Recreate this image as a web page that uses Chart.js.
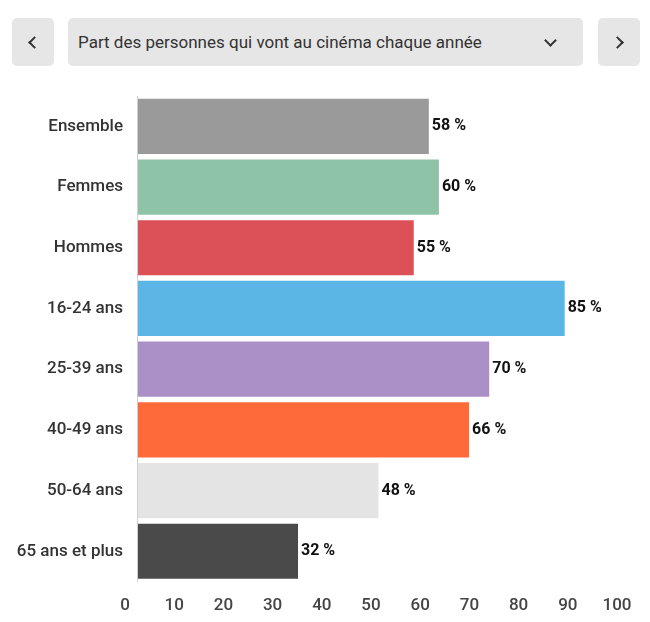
<!DOCTYPE html>
<html>
<head>
<meta charset="utf-8">
<script src="https://cdn.jsdelivr.net/npm/chart.js@4"></script>
<style>
  body { margin: 0; background: #fff; font-family: Roboto, "Noto Sans", sans-serif; }
  .btn { position: absolute; top: 18px; height: 48px; background: #e6e6e6; border-radius: 5px;
         display: flex; align-items: center; justify-content: center; color: #333; font-size: 17px; }
  #prev { left: 12px; width: 42px; }
  #next { left: 598px; width: 42px; }
  #sel { left: 68px; width: 515px; justify-content: space-between; padding: 0 0 0 10px; box-sizing: border-box; }
  .chev { width: 7px; height: 7px; border-right: 2px solid #333; border-bottom: 2px solid #333; }
  #prev .chev { transform: rotate(135deg); margin-left: 3px; }
  #next .chev { transform: rotate(-45deg); margin-right: 3px; }
  #sel .chev { transform: rotate(45deg); margin: -4px 28px 0 0; }
  #wrap { position: absolute; left: 0; top: 80px; width: 650px; height: 542px; }
</style>
</head>
<body>
<div class="btn" id="prev"><div class="chev"></div></div>
<div class="btn" id="sel"><span>Part des personnes qui vont au cinéma chaque année</span><div class="chev"></div></div>
<div class="btn" id="next"><div class="chev"></div></div>
<div id="wrap"><canvas id="c"></canvas></div>
<script>
const categories = ['Ensemble', 'Femmes', 'Hommes', '16-24 ans', '25-39 ans', '40-49 ans', '50-64 ans', '65 ans et plus'];
const values = [58, 60, 55, 85, 70, 66, 48, 32];
const colors = ['#9a9a9a', '#8fc3a7', '#dc5158', '#5bb5e5', '#ab90c7', '#ff6a39', '#e4e4e4', '#4a4a4a'];
const tickValues = [0, 10, 20, 30, 40, 50, 60, 70, 80, 90, 100];

const valueLabels = {
    id: 'valueLabels',
    afterDatasetsDraw(chart) {
        const ctx = chart.ctx;
        const meta = chart.getDatasetMeta(0);
        ctx.save();
        ctx.font = 'bold 16px Roboto, sans-serif';
        ctx.fillStyle = '#111';
        ctx.textBaseline = 'middle';
        meta.data.forEach((bar, i) => {
            ctx.fillText(values[i] + ' %', bar.x + 3, bar.y);
        });
        // vertical axis line at value 0
        const x0 = chart.scales.x.getPixelForValue(0);
        ctx.strokeStyle = '#d0d0d0';
        ctx.lineWidth = 1;
        ctx.beginPath();
        ctx.moveTo(x0 + 0.5, chart.chartArea.top);
        ctx.lineTo(x0 + 0.5, chart.chartArea.bottom);
        ctx.stroke();
        ctx.restore();
    },
};

new Chart(document.getElementById('c'), {
    type: 'bar',
    data: {
        labels: categories,
        datasets: [{
            data: values,
            backgroundColor: colors,
            barPercentage: 0.91,
            categoryPercentage: 1,
            xAxisID: 'x',
        }],
    },
    plugins: [valueLabels],
    options: {
        indexAxis: 'y',
        responsive: true,
        maintainAspectRatio: false,
        animation: false,
        layout: { padding: { top: 16, right: 33, left: 0, bottom: 0 } },
        plugins: { legend: { display: false }, tooltip: { enabled: false } },
        scales: {
            x: {
                display: false,
                min: -2.39,
                max: 95.4,
            },
            xt: {
                type: 'linear',
                position: 'bottom',
                min: 0,
                max: 100,
                afterBuildTicks(scale) { scale.ticks = tickValues.map((v) => ({ value: v })); },
                grid: { display: false },
                border: { display: false },
                ticks: { color: '#444', padding: 6, font: { size: 17, family: 'Roboto', weight: '500' } },
            },
            y: {
                grid: { display: false },
                border: { display: false },
                afterFit(scale) { scale.width = 125; },
                ticks: { color: '#333', padding: -6, font: { size: 17, family: 'Roboto', weight: '500' } },
            },
        },
    },
});
</script>
</body>
</html>
